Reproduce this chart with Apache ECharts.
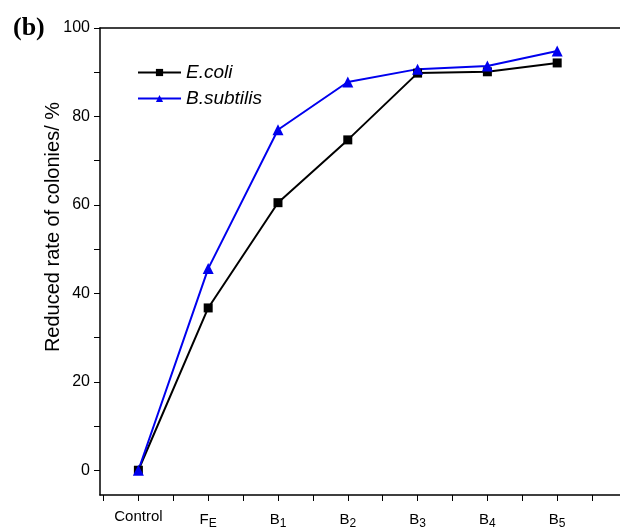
<!DOCTYPE html>
<html>
<head>
<meta charset="utf-8">
<script src="https://cdn.jsdelivr.net/npm/echarts@6/dist/echarts.min.js"></script>
<style>
  html, body { margin: 0; padding: 0; background: #fff; }
  #chart { width: 620px; height: 527px; }
</style>
</head>
<body>
<div id="chart"></div>
<script>
// categories along x (index = position)
const categories = ["Control", "F|E", "B|1", "B|2", "B|3", "B|4", "B|5"];
const ecoli = [0, 36.7, 60.5, 74.7, 89.8, 90.1, 92.1];
const bsubtilis = [0, 45.6, 77.0, 87.8, 90.7, 91.4, 94.8];
const yLabels = [0, 20, 40, 60, 80, 100];
const yTicks = [0, 10, 20, 30, 40, 50, 60, 70, 80, 90, 100];
const xTicks = [-0.5, 0, 0.5, 1, 1.5, 2, 2.5, 3, 3.5, 4, 4.5, 5, 5.5, 6, 6.5];

const chart = echarts.init(document.getElementById("chart"));
const font = "Liberation Sans, Arial, sans-serif";

function pairs(arr) {
  return arr.map((v, i) => [i, v]);
}

const option = {
  animation: false,
  textStyle: { fontFamily: font },
  grid: { left: 100, right: 0, top: 28, bottom: 32, outerBoundsMode: "none" },
  title: {
    text: "(b)",
    left: 8, top: 10,
    textStyle: { fontFamily: "Liberation Serif, Times New Roman, serif", fontWeight: "bold", fontSize: 26, color: "#000" }
  },
  graphic: [{
    type: "text",
    x: 53, y: 227,
    rotation: Math.PI / 2,
    style: {
      text: "Reduced rate of colonies/ %",
      font: "20px " + font,
      fill: "#000",
      align: "center",
      verticalAlign: "middle"
    }
  }],
  legend: {
    orient: "vertical",
    left: 132, top: 58,
    itemWidth: 43, itemHeight: 9, itemGap: 7,
    textStyle: { fontStyle: "italic", fontSize: 19, color: "#000", fontFamily: font },
    data: ["E.coli", "B.subtilis"]
  },
  xAxis: [{
    type: "value",
    min: -0.55, max: 6.9,
    splitLine: { show: false },
    axisLine: { onZero: false, lineStyle: { color: "#000", width: 1.5 } },
    axisTick: { customValues: xTicks, length: 6, lineStyle: { color: "#000" } },
    axisLabel: {
      customValues: [0, 1, 2, 3, 4, 5, 6],
      color: "#000", fontSize: 14, margin: 14,
      formatter: function (v) {
        const c = categories[Math.round(v)];
        if (!c) return "";
        const p = c.split("|");
        return p.length > 1 ? "{n|" + p[0] + "}{s|" + p[1] + "}" : "{n|" + p[0] + "}";
      },
      rich: {
        n: { fontSize: 15, color: "#000", fontFamily: font },
        s: { fontSize: 12, color: "#000", fontFamily: font, verticalAlign: "bottom", padding: [9, 0, 0, 0] }
      }
    }
  }, {
    type: "value",
    position: "top",
    min: -0.55, max: 6.9,
    splitLine: { show: false },
    axisLine: { onZero: false, lineStyle: { color: "#000", width: 1.5 } },
    axisTick: { show: false },
    axisLabel: { show: false }
  }],
  yAxis: {
    type: "value",
    min: -5.6, max: 100,
    splitLine: { show: false },
    axisLine: { onZero: false, lineStyle: { color: "#000", width: 1.5 } },
    axisTick: { customValues: yTicks, length: 6, lineStyle: { color: "#000" } },
    axisLabel: { customValues: yLabels, color: "#000", fontSize: 16, margin: 10 }
  },
  series: [{
    name: "E.coli",
    type: "line",
    data: pairs(ecoli),
    symbol: "rect",
    symbolSize: 9,
    lineStyle: { color: "#000", width: 2 },
    itemStyle: { color: "#000" }
  }, {
    name: "B.subtilis",
    type: "line",
    data: pairs(bsubtilis),
    symbol: "triangle",
    symbolSize: 11,
    lineStyle: { color: "#0000ee", width: 2 },
    itemStyle: { color: "#0000ee" }
  }]
};

chart.setOption(option);
</script>
</body>
</html>
